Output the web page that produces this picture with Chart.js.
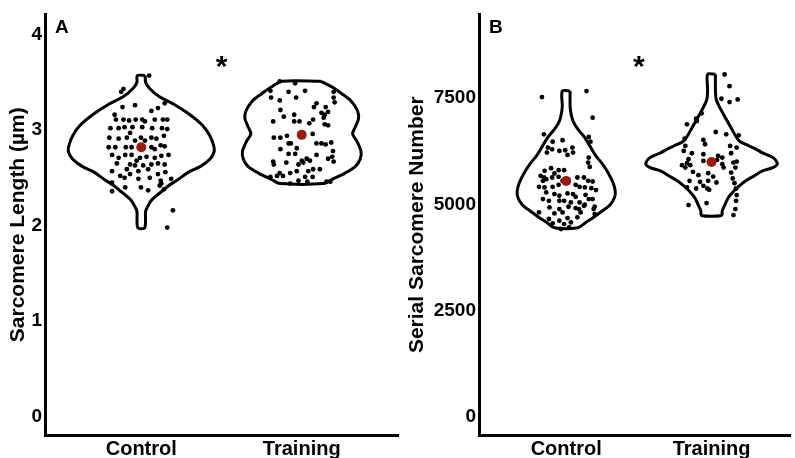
<!DOCTYPE html>
<html>
<head>
<meta charset="utf-8">
<script src="https://cdn.jsdelivr.net/npm/chart.js@4.4.1/dist/chart.umd.min.js"></script>
<style>
    body { margin: 0; background: #fff; }
    .panel { position: absolute; top: 0; height: 458px; }
</style>
</head>
<body>
<div class="panel" style="left:0;width:403px"><canvas id="lengthChart"></canvas></div>
<div class="panel" style="left:403px;width:392px"><canvas id="numberChart"></canvas></div>
<script>
const groups = ['Control', 'Training'];

// individual fibres: [jitter, value]
const controlLength = [[0.049,3.57],[-0.111,3.43],[-0.125,3.40],[-0.166,3.16],[-0.117,3.24],[-0.039,3.26],[0.063,3.20],[0.104,3.23],[0.146,3.28],[-0.158,3.11],[-0.111,3.11],[-0.076,3.10],[-0.035,3.11],[0.006,3.11],[0.023,3.09],[0.084,3.11],[0.135,3.11],[0.162,3.11],[-0.192,3.02],[-0.141,3.02],[-0.104,3.03],[-0.055,3.03],[0.006,3.03],[0.068,3.02],[0.129,3.02],[0.162,3.01],[-0.199,2.92],[-0.141,2.91],[-0.090,2.92],[-0.039,2.89],[-0.002,2.92],[0.063,2.92],[0.094,2.91],[0.141,2.94],[-0.203,2.82],[-0.162,2.82],[-0.096,2.82],[-0.060,2.82],[0.063,2.82],[0.121,2.84],[0.146,2.83],[-0.182,2.74],[-0.100,2.74],[-0.060,2.74],[0.033,2.72],[0.084,2.71],[0.125,2.73],[0.170,2.74],[-0.152,2.65],[-0.070,2.64],[-0.039,2.63],[0.012,2.63],[0.063,2.64],[0.104,2.65],[0.146,2.64],[-0.182,2.57],[-0.090,2.59],[-0.018,2.57],[0.043,2.59],[0.104,2.54],[0.150,2.56],[-0.104,2.50],[-0.018,2.49],[0.053,2.50],[0.121,2.47],[0.186,2.49],[-0.182,2.45],[-0.100,2.40],[-0.002,2.40],[0.043,2.37],[0.115,2.42],[0.141,2.38],[-0.182,2.36],[0.125,2.44],[0.197,2.16],[0.162,1.98],[-0.131,2.52],[-0.070,2.54],[0.084,2.80],[-0.008,2.71],[0.023,2.89],[-0.070,2.97],[-0.029,2.68],[-0.141,2.71]];
const trainingLength = [[-0.137,3.51],[-0.041,3.49],[-0.195,3.41],[-0.082,3.40],[-0.035,3.34],[0.021,3.41],[0.199,3.40],[0.199,3.34],[0.205,3.29],[-0.191,3.34],[-0.137,3.31],[-0.133,3.21],[-0.047,3.16],[0.092,3.28],[0.076,3.24],[0.149,3.24],[0.123,3.18],[0.143,3.16],[0.164,3.19],[0.137,3.13],[-0.178,3.09],[-0.112,3.14],[-0.047,3.09],[-0.014,3.09],[0.071,3.11],[0.047,3.07],[0.164,3.05],[0.143,3.06],[0.068,2.96],[-0.092,2.94],[-0.174,2.92],[-0.133,2.92],[-0.082,2.86],[-0.068,2.86],[0.092,2.86],[0.123,2.86],[0.149,2.85],[0.184,2.87],[-0.133,2.80],[-0.031,2.81],[0.195,2.78],[0.190,2.72],[-0.082,2.75],[-0.041,2.75],[0.092,2.74],[0.000,2.68],[0.031,2.70],[0.051,2.68],[-0.178,2.67],[-0.174,2.64],[-0.096,2.66],[-0.020,2.64],[0.010,2.66],[0.164,2.70],[0.199,2.67],[0.071,2.59],[0.113,2.59],[-0.137,2.55],[-0.072,2.55],[-0.031,2.57],[0.041,2.57],[-0.195,2.51],[-0.117,2.52],[0.021,2.51],[0.068,2.51],[-0.020,2.47],[0.035,2.46],[-0.072,2.44],[0.154,2.46],[0.178,2.46],[-0.154,2.52]];
const controlNumber = [[-0.167,7524],[0.140,7665],[0.182,7040],[-0.153,6649],[-0.025,6509],[-0.093,6477],[0.155,6587],[0.167,6477],[-0.126,6337],[-0.097,6297],[-0.047,6258],[-0.007,6274],[0.043,6337],[0.047,6219],[-0.133,6219],[0.009,6165],[0.155,6102],[0.151,5985],[0.162,5883],[-0.104,5852],[-0.052,5805],[-0.014,5805],[-0.149,5790],[-0.081,5727],[-0.176,5672],[-0.153,5633],[-0.160,5555],[-0.137,5594],[-0.097,5633],[-0.052,5649],[-0.025,5555],[0.077,5633],[0.122,5633],[0.151,5555],[0.182,5539],[-0.187,5415],[-0.149,5399],[-0.093,5415],[-0.052,5462],[0.065,5462],[0.092,5415],[0.128,5399],[0.173,5383],[0.205,5337],[-0.137,5282],[-0.081,5243],[-0.047,5204],[0.009,5258],[0.047,5243],[0.065,5180],[0.133,5227],[0.155,5125],[-0.160,5125],[-0.119,5086],[-0.047,5086],[-0.014,5086],[0.032,5047],[0.092,5047],[0.128,4993],[0.182,5125],[0.196,4946],[-0.115,4930],[-0.047,4891],[0.016,4946],[0.065,4915],[0.088,4891],[0.122,4969],[0.189,4891],[-0.187,4813],[-0.081,4789],[-0.025,4813],[0.099,4813],[0.196,4774],[-0.119,4657],[-0.047,4618],[0.009,4680],[0.077,4696],[-0.093,4555],[-0.014,4539],[0.032,4578],[-0.036,4422],[0.020,4461]];
const trainingNumber = [[0.090,8056],[0.124,7782],[0.068,7485],[0.124,7407],[0.180,7470],[-0.068,7142],[-0.106,7016],[-0.101,6962],[-0.169,6884],[0.029,6704],[0.101,6649],[0.187,6626],[-0.185,6547],[-0.056,6516],[-0.045,6415],[-0.180,6376],[-0.191,6258],[0.128,6376],[0.173,6337],[-0.135,6204],[-0.056,6180],[0.045,6141],[0.074,6102],[0.135,6204],[-0.158,6063],[-0.169,5970],[-0.203,5923],[-0.146,5923],[-0.056,6024],[0.038,6047],[0.074,5946],[0.151,5985],[0.173,6008],[-0.180,5868],[-0.128,5766],[-0.090,5688],[-0.023,5735],[0.011,5656],[0.083,5868],[0.135,5750],[0.164,5868],[-0.151,5555],[-0.079,5532],[-0.023,5555],[0.034,5516],[0.146,5610],[0.158,5501],[-0.169,5399],[-0.106,5375],[-0.056,5438],[-0.029,5375],[-0.016,5344],[0.169,5375],[0.173,5219],[0.169,5086],[-0.158,4985],[-0.034,5032],[0.164,4891],[0.151,4750]];

const lengthMeans = [2.82, 2.95];
const numberMeans = [5554, 6000];

// violin outlines: value along y, half width of the density in category units
const controlLengthDensity = [[3.57,0.025],[3.50,0.027],[3.44,0.049],[3.35,0.111],[3.27,0.203],[3.17,0.295],[3.05,0.381],[2.95,0.424],[2.85,0.449],[2.78,0.455],[2.70,0.430],[2.62,0.369],[2.56,0.295],[2.48,0.227],[2.42,0.172],[2.36,0.129],[2.31,0.092],[2.26,0.061],[2.21,0.043],[2.15,0.027],[1.98,0.022]];
const trainingLengthDensity = [[3.51,0.120],[3.45,0.190],[3.38,0.250],[3.30,0.310],[3.20,0.348],[3.12,0.354],[3.04,0.336],[2.96,0.317],[2.88,0.345],[2.78,0.369],[2.70,0.365],[2.62,0.335],[2.55,0.270],[2.48,0.185],[2.44,0.135]];
const controlNumberDensity = [[7665,0.027],[7300,0.027],[7120,0.034],[6960,0.047],[6800,0.074],[6570,0.128],[6340,0.169],[6150,0.203],[5950,0.250],[5730,0.291],[5500,0.324],[5300,0.338],[5150,0.331],[5000,0.304],[4850,0.250],[4700,0.189],[4560,0.128],[4450,0.081]];
const trainingNumberDensity = [[8060,0.027],[7700,0.027],[7450,0.034],[7125,0.081],[6800,0.135],[6500,0.189],[6380,0.257],[6290,0.311],[6211,0.351],[6094,0.426],[5954,0.453],[5870,0.426],[5790,0.351],[5680,0.297],[5555,0.236],[5430,0.189],[5321,0.155],[5157,0.115],[5016,0.095],[4850,0.074],[4740,0.068]];

const lengthTicks = [0, 1, 2, 3, 4];
const numberTicks = [0, 2500, 5000, 7500];

const FONT = '"Liberation Sans", Arial, sans-serif';

function outline(center, density) {
    const right = density.map(([y, w]) => ({ x: center + w, y }));
    const left = density.map(([y, w]) => ({ x: center - w, y })).reverse();
    return right.concat(left, [right[0]]);
}

function jittered(center, pts) {
    return pts.map(([j, y]) => ({ x: center + j, y }));
}

// panel letter and significance star
const panelMarks = {
    id: 'panelMarks',
    afterDraw(chart, args, opts) {
        const { ctx, chartArea, scales } = chart;
        ctx.save();
        ctx.fillStyle = '#000';
        ctx.font = 'bold 19px ' + FONT;
        ctx.textBaseline = 'alphabetic';
        ctx.fillText(opts.letter, chartArea.left + 10, 33);
        ctx.font = 'bold 30px ' + FONT;
        ctx.textAlign = 'center';
        ctx.textBaseline = 'middle';
        ctx.fillText('*', scales.x.getPixelForValue(1.5), scales.y.getPixelForValue(opts.star));
        ctx.restore();
    }
};

function buildPanel(id, cfg) {
    const datasets = [];
    cfg.densities.forEach((d, i) => {
        datasets.push({
            data: outline(i + 1, d),
            showLine: true,
            tension: 0.3,
            borderColor: '#000',
            borderWidth: 3,
            pointRadius: 0,
            fill: false,
            order: 2
        });
    });
    cfg.points.forEach((p, i) => {
        datasets.push({
            data: jittered(i + 1, p),
            backgroundColor: '#000',
            borderWidth: 0,
            pointRadius: 2.4,
            order: 1
        });
    });
    datasets.push({
        data: cfg.means.map((m, i) => ({ x: i + 1, y: m })),
        backgroundColor: '#9e1a0c',
        borderWidth: 0,
        pointRadius: 5,
        order: 0
    });

    new Chart(document.getElementById(id), {
        type: 'scatter',
        data: { datasets },
        options: {
            responsive: true,
            maintainAspectRatio: false,
            animation: false,
            layout: { padding: { top: 13, left: 0, right: 0, bottom: 0 } },
            plugins: {
                legend: { display: false },
                tooltip: { enabled: false },
                panelMarks: { letter: cfg.letter, star: cfg.star }
            },
            scales: {
                x: {
                    type: 'linear',
                    min: 0.4,
                    max: cfg.xMax,
                    grid: { display: false, drawTicks: false },
                    border: { display: true, color: '#000', width: 3 },
                    afterBuildTicks: s => { s.ticks = [{ value: 1 }, { value: 2 }]; },
                    afterFit: s => { s.height = 23; },
                    ticks: {
                        padding: 2,
                        color: '#000',
                        font: { family: FONT, size: 20, weight: 'bold' },
                        callback: v => groups[v - 1]
                    }
                },
                y: {
                    min: cfg.yMin,
                    max: cfg.yMax,
                    grid: { display: false, drawTicks: false },
                    border: { display: true, color: '#000', width: 3 },
                    afterBuildTicks: s => { s.ticks = cfg.ticks.map(v => ({ value: v })); },
                    afterFit: s => { s.width = cfg.axisWidth; },
                    ticks: {
                        padding: 3,
                        color: '#000',
                        font: { family: FONT, size: 19, weight: 'bold' },
                        callback: v => String(v)
                    },
                    title: {
                        display: true,
                        text: cfg.title,
                        color: '#000',
                        padding: { top: cfg.titlePad },
                        font: { family: FONT, size: 21, weight: 'bold' }
                    }
                }
            }
        },
        plugins: [panelMarks]
    });
}

buildPanel('lengthChart', {
    letter: 'A',
    star: 3.65,
    title: 'Sarcomere Length (µm)',
    titlePad: 6,
    axisWidth: 45,
    xMax: 2.6,
    yMin: -0.19,
    yMax: 4.21,
    ticks: lengthTicks,
    densities: [controlLengthDensity, trainingLengthDensity],
    points: [controlLength, trainingLength],
    means: lengthMeans
});

buildPanel('numberChart', {
    letter: 'B',
    star: 8216,
    title: 'Serial Sarcomere Number',
    titlePad: 2,
    axisWidth: 76,
    xMax: 2.54,
    yMin: -422,
    yMax: 9469,
    ticks: numberTicks,
    densities: [controlNumberDensity, trainingNumberDensity],
    points: [controlNumber, trainingNumber],
    means: numberMeans
});
</script>
</body>
</html>
